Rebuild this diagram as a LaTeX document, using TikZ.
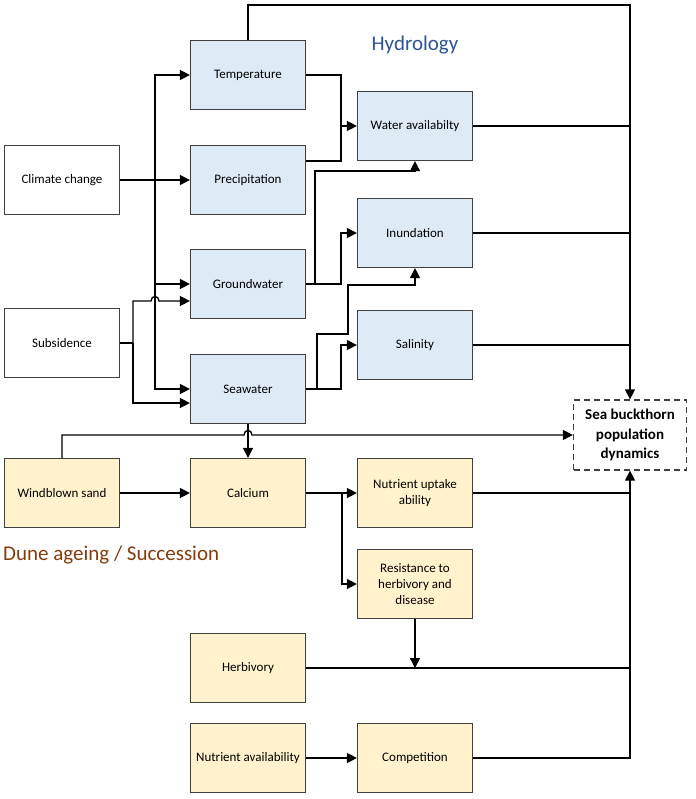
\documentclass[tikz,border=0pt]{standalone}
\usepackage{fontspec}
\setmainfont{Carlito}
\usetikzlibrary{arrows.meta}

\definecolor{hydrofill}{RGB}{222,234,246}
\definecolor{dunefill}{RGB}{255,242,204}
\definecolor{hydrotext}{RGB}{47,84,150}
\definecolor{dunetext}{RGB}{132,60,12}

\begin{document}
\begin{tikzpicture}[x=1pt,y=-1pt,
  box/.style={draw=black!75,line width=1.2pt,minimum width=115pt,minimum height=69pt,
    inner sep=2pt,align=center,font=\fontsize{13}{16}\selectfont},
  hydro/.style={box,fill=hydrofill},
  dune/.style={box,fill=dunefill},
  link/.style={line width=1.4pt},
  arr/.style={link,-{Triangle[length=10pt,width=10pt]}}
]
\useasboundingbox (0,0) rectangle (695,799);

% drivers
\node[box] (clim) at (62,180) {Climate change};
\node[box] (subs) at (62,343) {Subsidence};

% hydrology
\node[hydro] (temp) at (248,75) {Temperature};
\node[hydro] (prec) at (248,180) {Precipitation};
\node[hydro] (gw) at (248,284) {Groundwater};
\node[hydro] (sea) at (248,389) {Seawater};
\node[hydro] (water) at (415,126) {Water availabilty};
\node[hydro] (inund) at (415,233) {Inundation};
\node[hydro] (sal) at (415,345) {Salinity};
\node[text=hydrotext,font=\fontsize{21}{24}\selectfont] (hydrolabel) at (415,45) {Hydrology};

% dune ageing
\node[dune] (sand) at (62,493) {Windblown sand};
\node[dune] (calc) at (248,493) {Calcium};
\node[dune] (uptake) at (415,493) {Nutrient uptake\\ability};
\node[dune] (resist) at (415,584) {Resistance to\\herbivory and\\disease};
\node[dune] (herb) at (248,668) {Herbivory};
\node[dune] (nutav) at (248,758) {Nutrient availability};
\node[dune] (comp) at (415,758) {Competition};
\node[text=dunetext,anchor=west,inner sep=0pt,font=\fontsize{21}{24}\selectfont] (dunelabel) at (3,555) {Dune ageing / Succession};

% target
\node[draw=black!75,line width=1.3pt,dash pattern=on 6pt off 4pt,fill=white,
  minimum width=113pt,minimum height=70pt,align=center,
  font=\bfseries\fontsize{15}{19.5}\selectfont] (sbt) at (630,435) {Sea buckthorn\\population\\dynamics};

% climate change and subsidence
\coordinate (trunk) at (155,180);
\coordinate (sbranch) at (133,343);
\draw[arr] (clim.east) -- (prec.west);
\draw[arr] (trunk) |- (temp.west);
\draw[arr] (trunk) |- (gw.west);
\draw[arr] (trunk) |- (sea.west);
\draw[link] (subs.east) -- (sbranch);
\draw[arr] (sbranch) |- (151,301) .. controls (151,295) and (159,295) .. (159,301) -- ([yshift=-17pt]gw.west);
\draw[arr] (sbranch) |- ([yshift=-14pt]sea.west);

% hydrology links
\coordinate (wjoin) at (341,126);
\coordinate (gjoin) at (315,284);
\coordinate (sjoin) at (317,389);
\draw[link] (temp.east) -| (wjoin);
\draw[link] ([yshift=19pt]prec.east) -| (wjoin);
\draw[arr] (wjoin) -- (water.west);
\draw[arr] (gw.east) -| ([xshift=-16pt]inund.west) -- (inund.west);
\draw[arr] (gjoin) |- ([yshift=-10pt]water.south) -- (water.south);
\draw[arr] (sea.east) -| ([xshift=-16pt]sal.west) -- (sal.west);
\draw[arr] (sjoin) |- (348,334) |- ([yshift=-17pt]inund.south) -- (inund.south);

% to sea buckthorn, from above
\coordinate (topright) at (630,5);
\draw[arr] (temp.north) |- (topright) -- (sbt.north);
\draw[link] (water.east) -- (water.east -| sbt.north);
\draw[link] (inund.east) -- (inund.east -| sbt.north);
\draw[link] (sal.east) -- (sal.east -| sbt.north);

% dune ageing links
\draw[arr] (sea.south) -- (calc.north);
\draw[arr] (sand.north) |- (244,435) .. controls (244,429) and (252,429) .. (252,435) -- (sbt.west);
\draw[arr] (sand.east) -- (calc.west);
\draw[arr] (calc.east) -- (uptake.west);
\draw[arr] ([xshift=36pt]calc.east) |- (resist.west);
\draw[arr] (resist.south) -- (resist.south |- herb.east);
\draw[arr] (nutav.east) -- (comp.west);

% to sea buckthorn, from below
\draw[arr] (comp.east) -| (sbt.south);
\draw[link] (uptake.east) -- (uptake.east -| sbt.south);
\draw[link] (herb.east) -- (herb.east -| sbt.south);
\end{tikzpicture}
\end{document}
